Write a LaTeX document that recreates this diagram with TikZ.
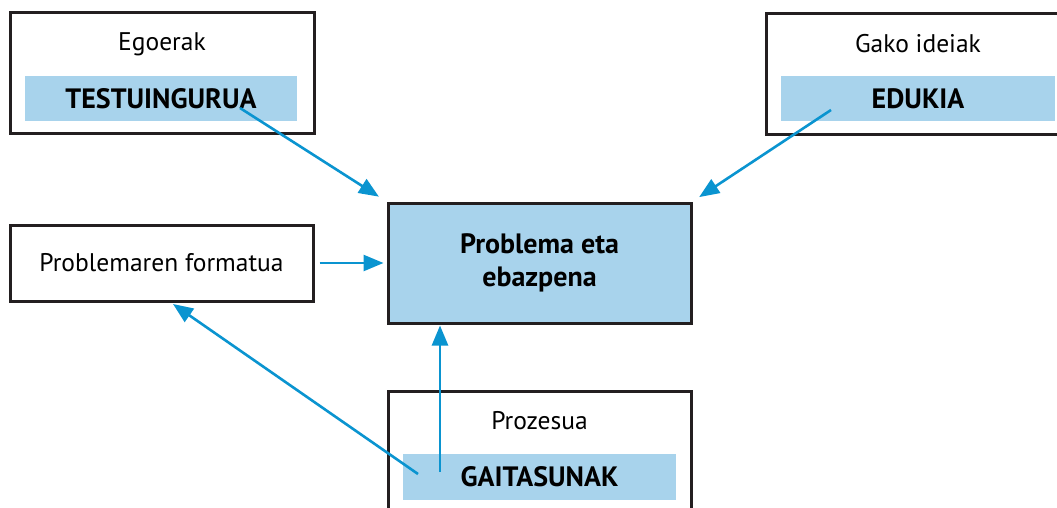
\documentclass[tikz,border=0pt]{standalone}
\usepackage{fontspec}
\setmainfont{PT Sans}
\usetikzlibrary{arrows.meta,calc}
\definecolor{lblue}{HTML}{A8D3EC}
\definecolor{arrblue}{HTML}{0A94D0}
\definecolor{edge}{HTML}{231F20}
\begin{document}
\begin{tikzpicture}[x=1pt,y=-1pt,
  box/.style={draw=edge,line width=3pt,fill=white,rectangle,inner sep=0pt},
  strip/.style={fill=lblue,rectangle,inner sep=0pt,font=\fontsize{28}{32}\selectfont\bfseries},
  lbl/.style={font=\fontsize{25.5}{30}\selectfont,inner sep=0pt},
  arr/.style={draw=arrblue,line width=2.6pt,-{Triangle[length=20pt,width=16pt]}}]
\useasboundingbox (0,0) rectangle (1057,508);
\clip (0,0) rectangle (1057,508);
% top-left
\node[box,minimum width=304pt,minimum height=121pt] (tl) at (162,73.5) {};
\node[lbl] (tlt) at (162,44) {Egoerak};
\node[strip,minimum width=272pt,minimum height=45pt] (tls) at (161,98.5) {TESTUINGURUA};
% top-right
\node[box,minimum width=304pt,minimum height=121pt] (tr) at (918,74) {};
\node[lbl] (trt) at (918,44) {Gako ideiak};
\node[strip,minimum width=274pt,minimum height=45pt] (trs) at (918,98.5) {EDUKIA};
% problemaren formatua
\node[box,minimum width=303pt,minimum height=76pt,lbl] (pf) at (161.5,263) {Problemaren formatua};
% center
\node[box,fill=lblue,minimum width=303pt,minimum height=120pt,align=center,
  font=\fontsize{28}{33}\selectfont\bfseries] (c) at (539.5,263) {Problema eta\\ebazpena};
% bottom
\node[box,minimum width=303pt,minimum height=124pt] (b) at (539.5,453) {};
\node[lbl] (bt) at (539.5,421) {Prozesua};
\node[strip,minimum width=273pt,minimum height=46pt] (bs) at (539.5,477) {GAITASUNAK};
% connectors
\coordinate (a1) at (240,108);
\coordinate (a2) at (831,110);
\coordinate (a4) at (440,472);
\coordinate (a5) at (418,474);
\coordinate (a5e) at (173,304);
\draw[arr,shorten >=9pt] (a1) -- (c.north west);
\draw[arr,shorten >=8pt] (a2) -- (c.north east);
\draw[arr,shorten <=5pt,shorten >=3pt] (pf.east) -- (c.west);
\draw[arr,shorten >=1pt] (a4) -- (a4 |- c.south);
\draw[arr] (a5) -- (a5e);
\end{tikzpicture}
\end{document}
